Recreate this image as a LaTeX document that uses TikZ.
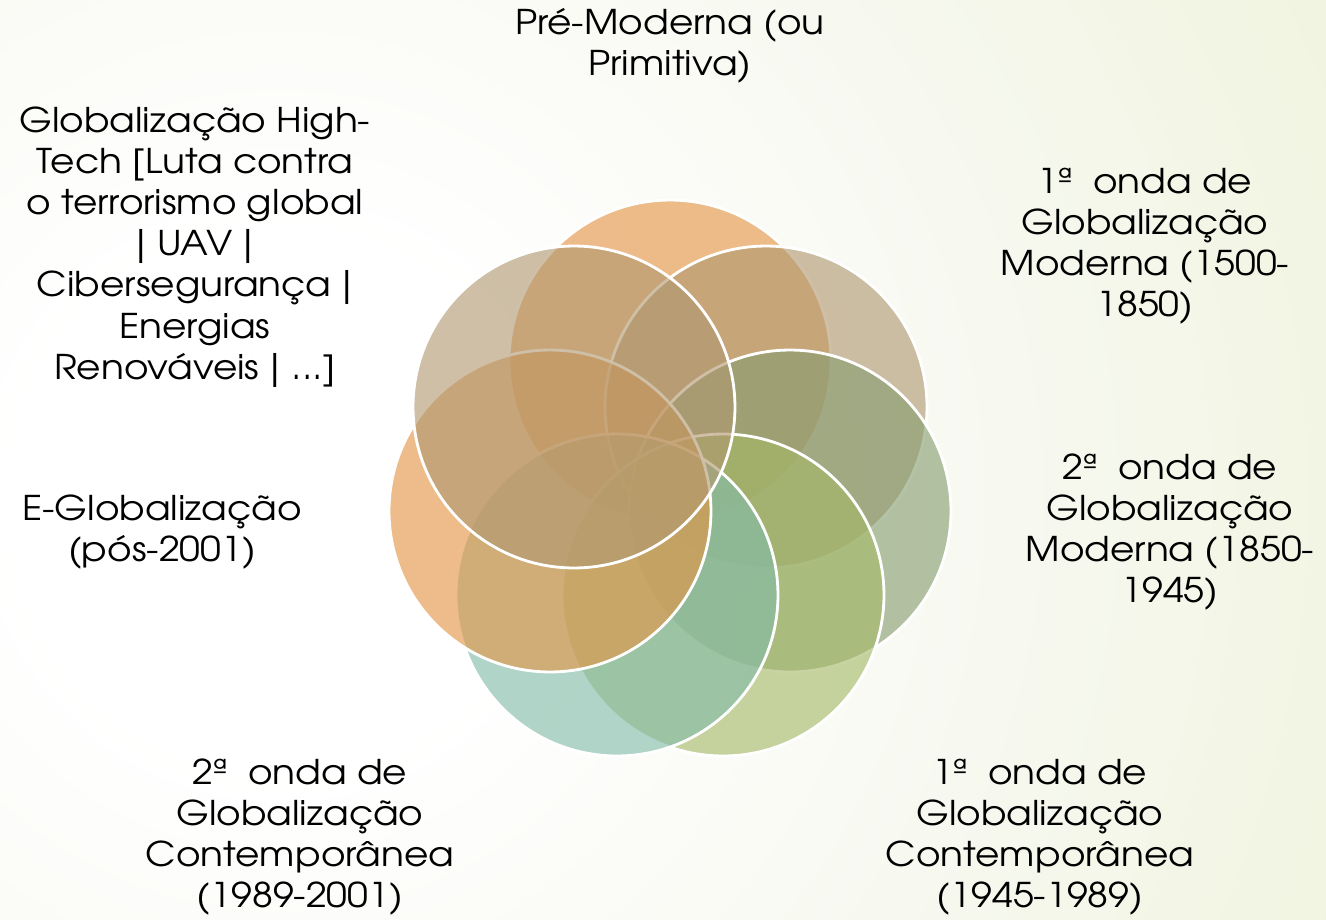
\documentclass[tikz,border=0pt]{standalone}
\usepackage{fontspec}
\setmainfont[FakeStretch=1.1]{TeX Gyre Adventor}
\newfontfamily\barfont{DejaVu Sans}
\usepackage{tikz}
\definecolor{bgout}{HTML}{E3EBC0}
\definecolor{bgmid}{HTML}{ECF1D4}
\definecolor{bgin}{HTML}{F6F8EE}
\definecolor{orng}{HTML}{E49444}
\definecolor{tann}{HTML}{B09870}
\definecolor{sage}{HTML}{879D70}
\definecolor{lime}{HTML}{A5B967}
\definecolor{teal}{HTML}{82BBA8}
\pgfdeclareradialshading{bgshade}{\pgfpoint{0bp}{0bp}}{color(0bp)=(white); color(4bp)=(white); color(12bp)=(bgin); color(22bp)=(bgmid); color(28bp)=(bgout); color(50bp)=(bgout)}
\newcommand{\vb}{{\barfont|}}

\begin{document}
\begin{tikzpicture}[x=0.02cm, y=-0.02cm,
  disc/.style={shape=circle, minimum size=6.44cm, inner sep=0pt, fill opacity=0.62, draw=white, draw opacity=1, line width=1.6pt},
  lbl/.style={align=center, font=\fontsize{19.4}{23.4}\selectfont, text=black}]
\useasboundingbox (0,0) rectangle (1326,920);
\begin{scope}
\clip (0,0) rectangle (1326,920);
\shade[shading=bgshade] (280,500) circle (1650);
\end{scope}

\node[disc, fill=orng](A) at (670,361) {};
\node[disc, fill=tann](B) at (766,407) {};
\node[disc, fill=sage](C) at (790,511) {};
\node[disc, fill=lime](D) at (723,595) {};
\node[disc, fill=teal](E) at (617,595) {};
\node[disc, fill=orng](F) at (550,511) {};
\node[disc, fill=tann](G) at (574,407) {};

\node[lbl](premod) at (670,46) {Pré-Moderna (ou\\Primitiva)};
\node[lbl](onda1) at (1145,246) {1ª\ \ onda de\\Globalização\\Moderna (1500-\\1850)};
\node[lbl](onda2) at (1170,532) {2ª\ \ onda de\\Globalização\\Moderna (1850-\\1945)};
\node[lbl](cont1) at (1040,837) {1ª\ \ onda de\\Globalização\\Contemporânea\\(1945-1989)};
\node[lbl](cont2) at (300,837) {2ª\ \ onda de\\Globalização\\Contemporânea\\(1989-2001)};
\node[lbl](eglob) at (162,532) {E-Globalização\\(pós-2001)};
\node[lbl](htech) at (195,247) {Globalização High-\\Tech [Luta contra\\o terrorismo global\\\vb{} UAV \vb\\Cibersegurança \vb\\Energias\\Renováveis \vb{} ...]};
\end{tikzpicture}
\end{document}
